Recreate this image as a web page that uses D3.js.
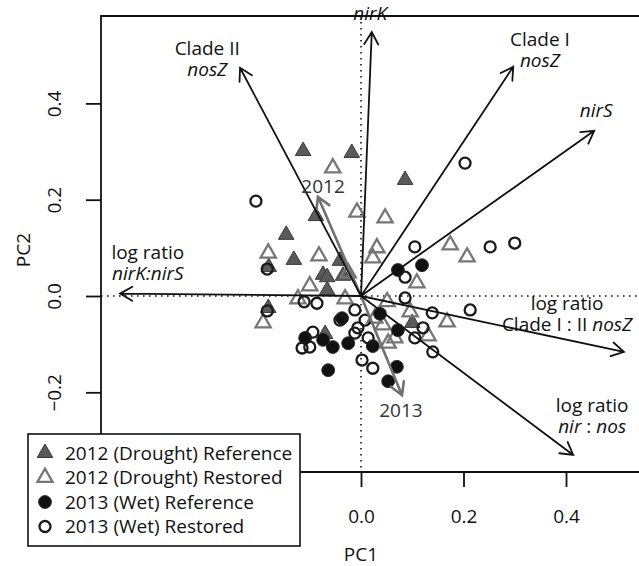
<!DOCTYPE html>
<html>
<head>
<meta charset="utf-8">
<script src="https://cdn.jsdelivr.net/npm/d3@7"></script>
<style>
  body { margin: 0; background: #fff; }
  text { font-family: 'Open Sans', 'Noto Sans', sans-serif; }
</style>
</head>
<body>
<svg id="chart" width="639" height="566"></svg>
<script>
// Site scores on the first two principal components [PC1, PC2]
const drought2012Reference = [
  [-0.113, 0.301], [-0.018, 0.297], [0.086, 0.241], [-0.088, 0.166], [-0.146, 0.127],
  [-0.131, 0.075], [-0.041, 0.073], [-0.180, 0.060], [-0.074, 0.044], [-0.066, 0.039],
  [-0.035, 0.042], [-0.066, 0.012], [-0.181, -0.025], [-0.070, -0.079], [0.100, -0.056]
];
const drought2012Restored = [
  [-0.055, 0.266], [-0.008, 0.174], [0.047, 0.162], [-0.181, 0.089], [-0.082, 0.083],
  [0.031, 0.100], [0.023, 0.079], [-0.025, 0.048], [0.174, 0.106], [0.207, 0.081],
  [0.109, 0.027], [-0.100, 0.021], [-0.123, -0.006], [-0.031, -0.006], [-0.191, -0.056],
  [0.051, -0.012], [0.168, -0.054], [0.043, -0.060], [0.066, -0.087], [0.131, -0.083],
  [0.053, -0.098], [0.027, -0.046], [0.096, -0.033]
];
const wet2013Reference = [
  [0.119, 0.064], [0.072, 0.054], [0.037, -0.037], [0.072, -0.071], [-0.025, -0.098],
  [0.023, -0.104], [-0.055, -0.106], [-0.074, -0.091], [-0.109, -0.087], [0.070, -0.147],
  [0.053, -0.177], [-0.064, -0.154], [-0.037, -0.046]
];
const wet2013Restored = [
  [-0.205, 0.197], [0.203, 0.276], [0.105, 0.102], [0.252, 0.102], [0.300, 0.110],
  [0.086, 0.039], [0.086, -0.004], [0.213, -0.029], [0.139, -0.035], [0.121, -0.066],
  [0.105, -0.087], [0.140, -0.116], [-0.183, 0.056], [-0.183, -0.031], [-0.111, -0.012],
  [-0.086, -0.015], [-0.012, -0.029], [-0.041, -0.050], [0.008, -0.050], [-0.094, -0.075],
  [-0.115, -0.108], [-0.100, -0.106], [-0.012, -0.077], [-0.006, -0.066], [0.014, -0.087],
  [0.002, -0.133], [0.023, -0.150]
];

// Gene abundance loadings (black vectors): tip and label anchor in PC units
const geneVectors = [
  { lines: [[["nirK", true]]],                                   pc1: 0.021, pc2: 0.548, lx: 0.018, ly: 0.573 },
  { lines: [[["Clade I", false]], [["nosZ", true]]],            pc1: 0.297, pc2: 0.476, lx: 0.349, ly: 0.519 },
  { lines: [[["nirS", true]]],                                   pc1: 0.455, pc2: 0.343, lx: 0.459, ly: 0.372 },
  { lines: [[["Clade II", false]], [["nosZ", true]]],           pc1: -0.236, pc2: 0.474, lx: -0.300, ly: 0.500 },
  { lines: [[["log ratio", false]], [["nirK:nirS", true]]],     pc1: -0.470, pc2: 0.005, lx: -0.416, ly: 0.077 },
  { lines: [[["log ratio", false]], [["Clade I : II ", false], ["nosZ", true]]], pc1: 0.513, pc2: -0.116, lx: 0.402, ly: -0.029 },
  { lines: [[["log ratio", false]], [["nir", true], [" : ", false], ["nos", true]]], pc1: 0.414, pc2: -0.330, lx: 0.451, ly: -0.241 }
];

// Sampling-year vectors (grey)
const yearVectors = [
  { label: "2012", pc1: -0.084, pc2: 0.206, lx: -0.074, ly: 0.214 },
  { label: "2013", pc1: 0.080, pc2: -0.206, lx: 0.078, ly: -0.251 }
];

const xTicks = [-0.4, -0.2, 0.0, 0.2, 0.4];
const yTicks = [-0.2, 0.0, 0.2, 0.4];

const legendLabels = [
  "2012 (Drought) Reference",
  "2012 (Drought) Restored",
  "2013 (Wet) Reference",
  "2013 (Wet) Restored"
];

const W = 639, H = 566;
const plotLeft = 101, plotTop = 16, plotBottom = 472, plotRight = 621;
const FS = 19;
const LINE_GAP = 21;

const svg = d3.select("#chart");
const x = d3.scaleLinear().domain([-0.5073, 0.5073]).range([plotLeft, plotRight]);
const y = d3.scaleLinear().domain([-0.3655, 0.5815]).range([plotBottom, plotTop]);

const fmt = v => (v < 0 ? "\u2212" : "") + Math.abs(v).toFixed(1);

// zero reference lines (dotted)
svg.append("line")
  .attr("x1", x(0)).attr("x2", x(0)).attr("y1", plotTop).attr("y2", plotBottom)
  .attr("stroke", "#111").attr("stroke-width", 1.6).attr("stroke-dasharray", "1.6,4.4");
svg.append("line")
  .attr("x1", plotLeft).attr("x2", W).attr("y1", y(0)).attr("y2", y(0))
  .attr("stroke", "#111").attr("stroke-width", 1.6).attr("stroke-dasharray", "1.6,4.4");

// plot frame: top, left, bottom
svg.append("path")
  .attr("d", `M${W},${plotTop}H${plotLeft}V${plotBottom}H${W}`)
  .attr("fill", "none").attr("stroke", "#111").attr("stroke-width", 1.8);

// axes
const xAxis = svg.append("g").attr("transform", `translate(0,${plotBottom})`)
  .call(d3.axisBottom(x).tickValues(xTicks).tickFormat(fmt).tickSize(15).tickPadding(23));
const yAxis = svg.append("g").attr("transform", `translate(${plotLeft},0)`)
  .call(d3.axisLeft(y).tickValues(yTicks).tickFormat(fmt).tickSize(15).tickPadding(6));
[xAxis, yAxis].forEach(g => {
  g.select(".domain").remove();
  g.selectAll(".tick line").attr("stroke", "#111").attr("stroke-width", 1.8);
  g.selectAll(".tick text").attr("font-size", FS).attr("fill", "#111")
    .attr("font-family", "'Open Sans', 'Noto Sans', sans-serif");
});
yAxis.selectAll(".tick text")
  .attr("text-anchor", "middle")
  .attr("transform", "translate(-47,0) rotate(-90)")
  .attr("x", 0).attr("y", 0).attr("dy", "0.35em");

// axis titles
svg.append("text").attr("x", x(0)).attr("y", 561).attr("text-anchor", "middle")
  .attr("font-size", FS).attr("fill", "#111").text("PC1");
svg.append("text").attr("transform", `translate(30,${(plotTop + plotBottom) / 2 + 6}) rotate(-90)`)
  .attr("text-anchor", "middle").attr("font-size", FS).attr("fill", "#111").text("PC2");

// point symbols
const triFilled = g => g.append("path").attr("d", d3.symbol(d3.symbolTriangle, 105)())
  .attr("fill", "#5a5a5a").attr("stroke", "#3a3a3a").attr("stroke-width", 1);
const triOpen = g => g.append("path").attr("d", d3.symbol(d3.symbolTriangle, 100)())
  .attr("fill", "none").attr("stroke", "#767676").attr("stroke-width", 2.3);
const dotFilled = g => g.append("circle").attr("r", 6.4)
  .attr("fill", "#111").attr("stroke", "#2a2a2a").attr("stroke-width", 1);
const dotOpen = g => g.append("circle").attr("r", 5.5)
  .attr("fill", "none").attr("stroke", "#1a1a1a").attr("stroke-width", 2.3);

const groups = [
  [drought2012Reference, triFilled],
  [drought2012Restored, triOpen],
  [wet2013Reference, dotFilled],
  [wet2013Restored, dotOpen]
];
const pts = svg.append("g");
groups.forEach(([data, sym]) => {
  data.forEach(d => {
    const g = pts.append("g").attr("transform", `translate(${x(d[0])},${y(d[1])})`);
    sym(g);
  });
});

// arrows from the origin
function arrow(v, color, width, head) {
  const x0 = x(0), y0 = y(0), x1 = x(v.pc1), y1 = y(v.pc2);
  const a = Math.atan2(y1 - y0, x1 - x0);
  const sp = Math.PI / 6;
  const p1 = [x1 - head * Math.cos(a - sp), y1 - head * Math.sin(a - sp)];
  const p2 = [x1 - head * Math.cos(a + sp), y1 - head * Math.sin(a + sp)];
  svg.append("path")
    .attr("d", `M${x0},${y0}L${x1},${y1}M${p1[0]},${p1[1]}L${x1},${y1}L${p2[0]},${p2[1]}`)
    .attr("fill", "none").attr("stroke", color).attr("stroke-width", width)
    .attr("stroke-linecap", "round").attr("stroke-linejoin", "miter");
}
yearVectors.forEach(v => arrow(v, "#707070", 2.6, 14));
geneVectors.forEach(v => arrow(v, "#111", 1.8, 14));

// vector labels
geneVectors.forEach(v => {
  v.lines.forEach((line, i) => {
    const t = svg.append("text").attr("x", x(v.lx)).attr("y", y(v.ly) + i * LINE_GAP)
      .attr("text-anchor", "middle").attr("font-size", FS).attr("fill", "#111");
    line.forEach(([s, it]) => {
      t.append("tspan").attr("font-style", it ? "italic" : "normal").text(s);
    });
  });
});
yearVectors.forEach(v => {
  svg.append("text").attr("x", x(v.lx)).attr("y", y(v.ly))
    .attr("text-anchor", "middle").attr("font-size", FS).attr("fill", "#333").text(v.label);
});

// legend
const lg = svg.append("g").attr("transform", "translate(28,434)");
lg.append("rect").attr("width", 272).attr("height", 112)
  .attr("fill", "#fff").attr("stroke", "#111").attr("stroke-width", 1.6);
const legendSyms = [triFilled, triOpen, dotFilled, dotOpen];
legendLabels.forEach((lab, i) => {
  const cy = 19 + i * 24.5;
  legendSyms[i](lg.append("g").attr("transform", `translate(17,${cy})`));
  lg.append("text").attr("x", 37).attr("y", cy).attr("dy", "0.35em")
    .attr("font-size", FS).attr("fill", "#111").text(lab);
});
</script>
</body>
</html>
